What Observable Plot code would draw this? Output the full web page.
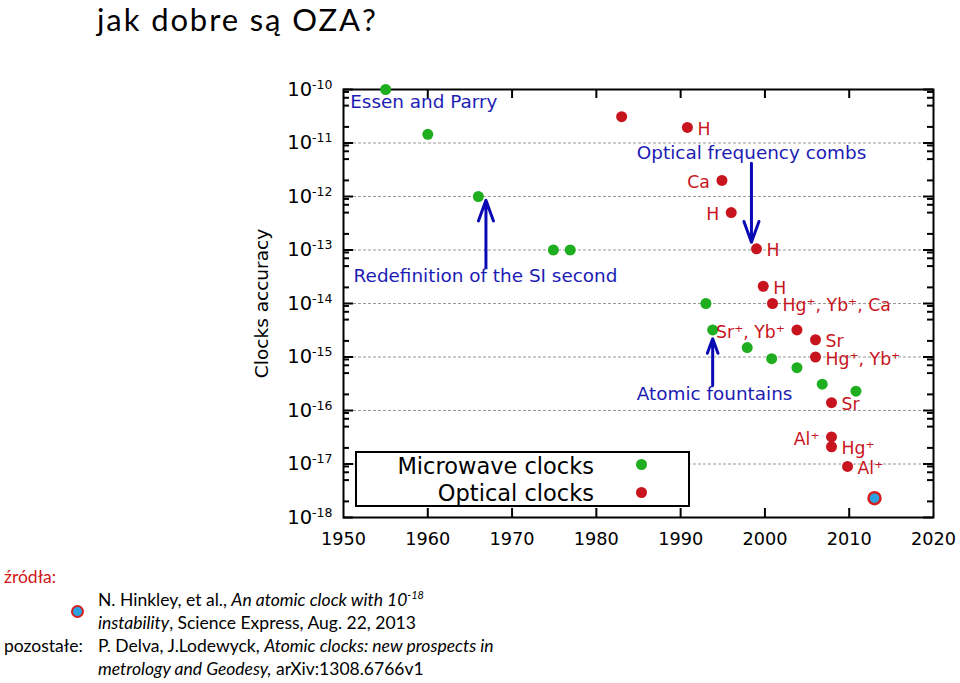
<!DOCTYPE html>
<html><head><meta charset="utf-8">
<script src="https://cdn.jsdelivr.net/npm/d3@7"></script>
<script src="https://cdn.jsdelivr.net/npm/@observablehq/plot@0.6"></script>
<style>
body{margin:0;background:#fff;}
#wrap{position:relative;width:960px;height:683px;overflow:hidden;font-family:Lato,"Open Sans",sans-serif;color:#000;}
#title{position:absolute;left:97px;top:0px;font-size:31px;letter-spacing:1.9px;white-space:nowrap;}
#chart{position:absolute;left:0;top:60px;}
#chart svg, #chart svg text{font-family:"DejaVu Sans",sans-serif !important;}
#legend{position:absolute;left:355px;top:451px;width:331px;height:52px;border:2px solid #000;background:#fff;font-family:"DejaVu Sans",sans-serif;font-size:22.5px;}
#legend .row{position:absolute;right:94px;white-space:nowrap;line-height:26px;}
#legend .dot{position:absolute;width:11px;height:11px;border-radius:50%;}
.cap{position:absolute;font-size:17.5px;line-height:22px;white-space:nowrap;}
.cap sup{font-size:11px;vertical-align:7px;line-height:0;}
#icon{position:absolute;left:71px;top:605px;width:9px;height:9px;border-radius:50%;background:#2aa3e0;border:2.5px solid #d42020;}
</style></head><body>
<div id="wrap">
  <div id="title">jak dobre są OZA?</div>
  <div id="chart"></div>
  <div id="legend">
    <div class="row" style="top:0px">Microwave clocks</div>
    <div class="row" style="top:27px">Optical clocks</div>
    <div class="dot" style="left:279px;top:6px;background:#1fae1f"></div>
    <div class="dot" style="left:279px;top:34px;background:#c8141e"></div>
  </div>
  <div class="cap" style="left:4px;top:566px;color:#d01818">źródła:</div>
  <div id="icon"></div>
  <div class="cap" style="left:98px;top:589px">N. Hinkley, et al., <i>An atomic clock with 10<sup>-18</sup></i></div>
  <div class="cap" style="left:98px;top:612px"><i>instability</i>, Science Express, Aug. 22, 2013</div>
  <div class="cap" style="left:4px;top:635px">pozostałe:</div>
  <div class="cap" style="left:98px;top:635px">P. Delva, J.Lodewyck, <i>Atomic clocks: new prospects in</i></div>
  <div class="cap" style="left:98px;top:658px"><i>metrology and Geodesy,</i> arXiv:1308.6766v1</div>
</div>
<script>
// ---- data ----
const microwaveYear = [1955.0, 1960.0, 1966.0, 1974.9, 1976.9, 1993.0, 1993.8, 1997.9, 2000.8, 2003.8, 2006.8, 2010.8];
const microwaveAcc  = [1e-10, 1.45e-11, 1e-12, 1e-13, 1e-13, 1e-14, 3.2e-15, 1.5e-15, 9.3e-16, 6.3e-16, 3.1e-16, 2.3e-16];

const opticalYear  = [1983.0, 1990.8, 1994.9, 1996.0, 1999.0, 1999.8, 2000.9, 2003.8, 2006.0, 2006.0, 2007.9, 2007.9, 2007.9, 2009.8];
const opticalAcc   = [3.1e-11, 1.95e-11, 2e-12, 5e-13, 1.05e-13, 2.1e-14, 1e-14, 3.2e-15, 2.1e-15, 1e-15, 1.4e-16, 3.2e-17, 2.1e-17, 9e-18];
const opticalLabel = ["", "H", "Ca", "H", "H", "H", "Hg⁺, Yb⁺, Ca", "Sr⁺, Yb⁺", "Sr", "Hg⁺, Yb⁺", "Sr", "Al⁺", "Hg⁺", "Al⁺"];
const labelSide    = ["", "R", "L", "L", "R", "R", "R", "L", "R", "R", "R", "L", "R", "R"];

const hinkleyYear = [2013.0];
const hinkleyAcc  = [2.3e-18];

const noteText = ["Essen and Parry", "Optical frequency combs", "Redefinition of the SI second", "Atomic fountains"];
const noteYear = [1950.8, 1984.8, 1951.2, 1984.8];
const noteAcc  = [5.7e-11, 6.6e-12, 3.2e-14, 2e-16];

const arrowYear = [1966.9, 1998.4, 1993.8];
const arrowFrom = [4.7e-14, 4.2e-12, 2.95e-16];
const arrowTo   = [8.5e-13, 1.4e-13, 2.2e-15];

const xTicks = [1950, 1960, 1970, 1980, 1990, 2000, 2010, 2020];
const xInner = [1960, 1970, 1980, 1990, 2000, 2010];
const yMajor = [1e-18, 1e-17, 1e-16, 1e-15, 1e-14, 1e-13, 1e-12, 1e-11, 1e-10];
const yGrid  = [1e-17, 1e-16, 1e-15, 1e-14, 1e-13, 1e-12, 1e-11];
const minorMult = [2, 5, 7, 9];
const yMinor = yMajor.slice(0, -1).flatMap(d => minorMult.map(m => d * m));

// ---- tables ----
const microwave = microwaveYear.map((x, i) => ({x, y: microwaveAcc[i]}));
const optical = opticalYear.map((x, i) => ({x, y: opticalAcc[i], label: opticalLabel[i], side: labelSide[i]}));
const hinkley = hinkleyYear.map((x, i) => ({x, y: hinkleyAcc[i]}));
const notes = noteText.map((t, i) => ({t, x: noteYear[i], y: noteAcc[i]}));
const arrows = arrowYear.map((x, i) => ({x, y1: arrowFrom[i], y2: arrowTo[i]}));

const W = 960, H = 500, mL = 343, mR = 27, mT = 29, mB = 43;
const pw = W - mL - mR, ph = H - mT - mB;
const blue = "#1c1cb4", red = "#c8141e", green = "#1fae1f", font = "'DejaVu Sans', sans-serif";

const plot = Plot.plot({
  width: W, height: H,
  marginLeft: mL, marginRight: mR, marginTop: mT, marginBottom: mB,
  style: {fontFamily: font, background: "#fff", overflow: "visible"},
  x: {domain: [1950, 2020]},
  y: {type: "log", domain: [1e-18, 1e-10]},
  marks: [
    Plot.ruleY(yGrid, {stroke: "#9a9a9a", strokeDasharray: "3,2", strokeWidth: 1.2}),
    // inward ticks
    Plot.tickY(yMajor, {y: d => d, insetRight: pw - 10, stroke: "#000", strokeWidth: 2}),
    Plot.tickY(yMajor, {y: d => d, insetLeft: pw - 10, stroke: "#000", strokeWidth: 2}),
    Plot.tickY(yMinor, {y: d => d, insetRight: pw - 6, stroke: "#000", strokeWidth: 2}),
    Plot.tickY(yMinor, {y: d => d, insetLeft: pw - 6, stroke: "#000", strokeWidth: 2}),
    Plot.tickX(xInner, {x: d => d, insetTop: ph - 9, stroke: "#000", strokeWidth: 2}),
    Plot.tickX(xInner, {x: d => d, insetBottom: ph - 9, stroke: "#000", strokeWidth: 2}),
    Plot.frame({stroke: "#000", strokeWidth: 2}),
    Plot.axisX({ticks: xTicks, tickSize: 0, tickPadding: 15, fontSize: 17.7, fontFamily: font, tickFormat: d => String(d), label: null}),
    Plot.axisY({ticks: yMajor, tickSize: 0, tickPadding: 11, fontSize: 19.5, fontFamily: font, tickFormat: d => "10^" + Math.round(Math.log10(d)), label: null}),
    Plot.text(["Clocks accuracy"], {frameAnchor: "left", textAnchor: "middle", rotate: -90, dx: -81, fontSize: 18.5, fontFamily: font, fill: "#000"}),
    // annotations
    Plot.arrow(arrows, {x1: "x", x2: "x", y1: "y1", y2: "y2", stroke: "#0a0ab4", strokeWidth: 3, headLength: 11, headAngle: 40}),
    Plot.text(notes, {x: "x", y: "y", text: "t", textAnchor: "start", fill: blue, fontSize: 18.4, fontFamily: font}),
    // data
    Plot.dot(microwave, {x: "x", y: "y", r: 5.5, fill: green}),
    Plot.dot(optical, {x: "x", y: "y", r: 5.5, fill: red}),
    Plot.text(optical.filter(d => d.side === "R"), {x: "x", y: "y", text: "label", textAnchor: "start", dx: 10, dy: 2, fill: red, fontSize: 17.3, fontFamily: font}),
    Plot.text(optical.filter(d => d.side === "L"), {x: "x", y: "y", text: "label", textAnchor: "end", dx: -12, dy: 2, fill: red, fontSize: 17.3, fontFamily: font}),
    Plot.dot(hinkley, {x: "x", y: "y", r: 6, fill: "#2aa3e0", stroke: "#d42020", strokeWidth: 2.5})
  ]
});

// superscript exponents on y tick labels
d3.select(plot).selectAll('g[aria-label="y-axis tick label"] text').each(function() {
  const t = this.textContent;
  const e = t.split("^")[1];
  const s = d3.select(this);
  s.text(null);
  s.append("tspan").text("10");
  s.append("tspan").attr("dy", "-7").attr("font-size", "12.5px").text(e);
});

document.getElementById("chart").appendChild(plot);
</script>
</body></html>
